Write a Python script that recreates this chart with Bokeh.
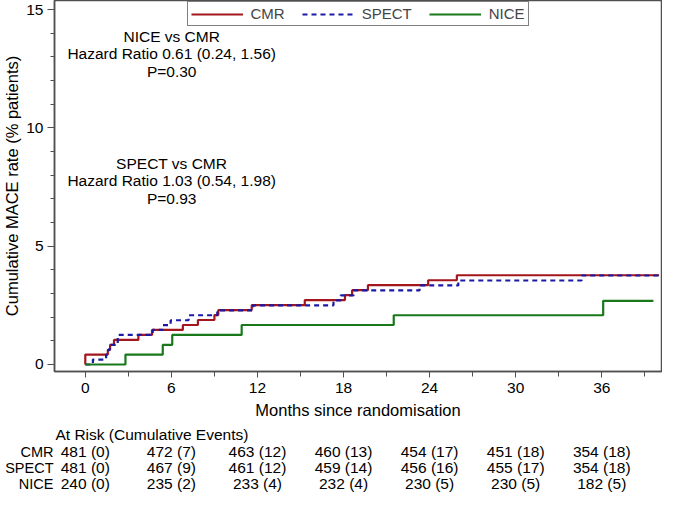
from bokeh.plotting import figure
from bokeh.models import Range1d, FixedTicker, Legend, LegendItem
from bokeh.layouts import column
from bokeh.embed import file_html
from bokeh.resources import INLINE
from bokeh.core.properties import value

# ---------------- data ----------------
month_ticks = [0, 6, 12, 18, 24, 30, 36]
month_minor = [3, 9, 15, 21, 27, 33, 39]
y_ticks = [0, 5, 10, 15]
y_minor = list(range(0, 16))

# Kaplan-Meier cumulative MACE rate (%)
cmr_t = [0, 0, 1.57, 1.73, 2.0, 3.7, 4.65, 6.8, 7.85, 9.0, 9.27, 11.6, 15.3, 18.1, 18.6, 19.7, 23.9, 25.9, 40.0]
cmr_y = [0, 0.42, 0.62, 0.83, 1.04, 1.25, 1.46, 1.67, 1.88, 2.09, 2.30, 2.51, 2.72, 2.93, 3.14, 3.35, 3.56, 3.77, 3.77]

spect_t = [0, 0.53, 1.45, 1.6, 1.7, 2.26, 4.7, 5.4, 5.95, 7.2, 9.2, 11.7, 17.3, 17.8, 18.7, 23.3, 26.0, 34.6, 40.0]
spect_y = [0, 0.21, 0.42, 0.62, 0.83, 1.25, 1.46, 1.66, 1.87, 2.08, 2.29, 2.50, 2.71, 2.92, 3.13, 3.34, 3.55, 3.76, 3.76]

nice_t = [0, 2.8, 5.4, 6.06, 10.9, 21.5, 36.1, 39.6]
nice_y = [0, 0.42, 0.83, 1.25, 1.67, 2.08, 2.69, 2.69]

# at-risk table
group_names = ["CMR", "SPECT", "NICE"]
cmr_at_risk = [481, 472, 463, 460, 454, 451, 354]
cmr_events = [0, 7, 12, 13, 17, 18, 18]
spect_at_risk = [481, 467, 461, 459, 456, 455, 354]
spect_events = [0, 9, 12, 14, 16, 17, 18]
nice_at_risk = [240, 235, 233, 232, 230, 230, 182]
nice_events = [0, 2, 4, 4, 5, 5, 5]

hr_lines_1 = ["NICE vs CMR", "Hazard Ratio 0.61 (0.24, 1.56)", "P=0.30"]
hr_lines_2 = ["SPECT vs CMR", "Hazard Ratio 1.03 (0.54, 1.98)", "P=0.93"]

# ---------------- style ----------------
FONT = "Liberation Sans"
FS = "15.5px"
FS_TITLE = "16.5px"
RED = "#A3161B"
BLUE = "#1A1AA6"
GREEN = "#18781A"
FRAME = "#505050"

X0, X1 = -2.147, 40.165
Y0, Y1 = -0.2958, 15.380

p = figure(width=662, height=424, x_range=Range1d(X0, X1), y_range=Range1d(Y0, Y1),
           output_backend="svg", toolbar_location=None,
           min_border_left=50, min_border_right=1, min_border_top=0, min_border_bottom=53)
p.xgrid.visible = False
p.ygrid.visible = False
p.outline_line_color = FRAME
p.outline_line_width = 1.5
p.background_fill_color = "white"

for ax in (p.xaxis[0], p.yaxis[0]):
    ax.axis_line_color = FRAME
    ax.axis_line_width = 1.5
    ax.major_tick_line_color = FRAME
    ax.minor_tick_line_color = FRAME
    ax.major_tick_in = 0
    ax.minor_tick_in = 0
    ax.major_label_text_font = FONT
    ax.major_label_text_font_size = FS
    ax.major_label_text_color = "black"
    ax.axis_label_text_font = FONT
    ax.axis_label_text_font_size = FS_TITLE
    ax.axis_label_text_font_style = "normal"
    ax.axis_label_text_color = "black"

p.xaxis.ticker = FixedTicker(ticks=month_ticks, minor_ticks=month_minor)
p.xaxis.major_tick_out = 6
p.xaxis.minor_tick_out = 5
p.xaxis.major_label_standoff = 5
p.xaxis.axis_label = "Months since randomisation"
p.xaxis.axis_label_standoff = 5

p.yaxis.ticker = FixedTicker(ticks=y_ticks, minor_ticks=y_minor)
p.yaxis.major_tick_out = 7
p.yaxis.minor_tick_out = 4
p.yaxis.major_label_standoff = 4
p.yaxis.axis_label = "Cumulative MACE rate (% patients)"
p.yaxis.axis_label_standoff = 2

r_cmr = p.step(cmr_t, cmr_y, mode="after", line_color=RED, line_width=2.2)
r_spect = p.step(spect_t, spect_y, mode="after", line_color=BLUE, line_width=2.2, line_dash="5 4")
r_nice = p.step(nice_t, nice_y, mode="after", line_color=GREEN, line_width=2.2)

legend = Legend(items=[LegendItem(label="CMR", renderers=[r_cmr]),
                       LegendItem(label="SPECT", renderers=[r_spect]),
                       LegendItem(label="NICE", renderers=[r_nice])],
                location="top_center", orientation="horizontal",
                border_line_color="black", border_line_width=1,
                background_fill_alpha=1.0,
                label_text_font=FONT, label_text_font_size="15px",
                glyph_width=52, glyph_height=14, label_standoff=8,
                label_height=14, spacing=17, padding=3, margin=1)
p.add_layout(legend)

# hazard ratio annotations
hr_x = 6.02
hr_y1 = [13.86, 13.12, 12.38]
hr_y2 = [8.51, 7.77, 7.03]
p.text(x=[hr_x] * 3, y=hr_y1, text=hr_lines_1, text_align="center", text_baseline="middle",
       text_font=value(FONT), text_font_size=FS, text_color="black")
p.text(x=[hr_x] * 3, y=hr_y2, text=hr_lines_2, text_align="center", text_baseline="middle",
       text_font=value(FONT), text_font_size=FS, text_color="black")

# ---------------- at-risk table ----------------
row_y = [27, 43, 59]
q = figure(width=662, height=68, x_range=p.x_range, y_range=Range1d(68, 0),
           output_backend="svg", toolbar_location=None, x_axis_type=None,
           min_border_left=50, min_border_right=1, min_border_top=0, min_border_bottom=0)
q.outline_line_color = None
q.xgrid.visible = False
q.ygrid.visible = False
q.yaxis.ticker = FixedTicker(ticks=row_y, minor_ticks=[])
q.yaxis.major_label_overrides = {yy: name for yy, name in zip(row_y, group_names)}
q.yaxis.axis_line_color = None
q.yaxis.major_tick_line_color = None
q.yaxis.minor_tick_line_color = None
q.yaxis.major_tick_out = 0
q.yaxis.major_tick_in = 0
q.yaxis.major_label_standoff = 1
q.yaxis.major_label_text_font = FONT
q.yaxis.major_label_text_font_size = "14.5px"
q.yaxis.major_label_text_color = "black"

q.text(x=[-2.08], y=[10], text=["At Risk (Cumulative Events)"], text_align="left", text_baseline="middle",
       text_font=value(FONT), text_font_size=FS, text_color="black")

for yy, n_risk, n_ev in zip(row_y, [cmr_at_risk, spect_at_risk, nice_at_risk],
                            [cmr_events, spect_events, nice_events]):
    cells = [f"{a} ({e})" for a, e in zip(n_risk, n_ev)]
    q.text(x=month_ticks, y=[yy] * len(month_ticks), text=cells, text_align="center", text_baseline="middle",
           text_font=value(FONT), text_font_size=FS, text_color="black")

layout = column(p, q, spacing=0)
open("out.html", "w").write(file_html(layout, INLINE))
